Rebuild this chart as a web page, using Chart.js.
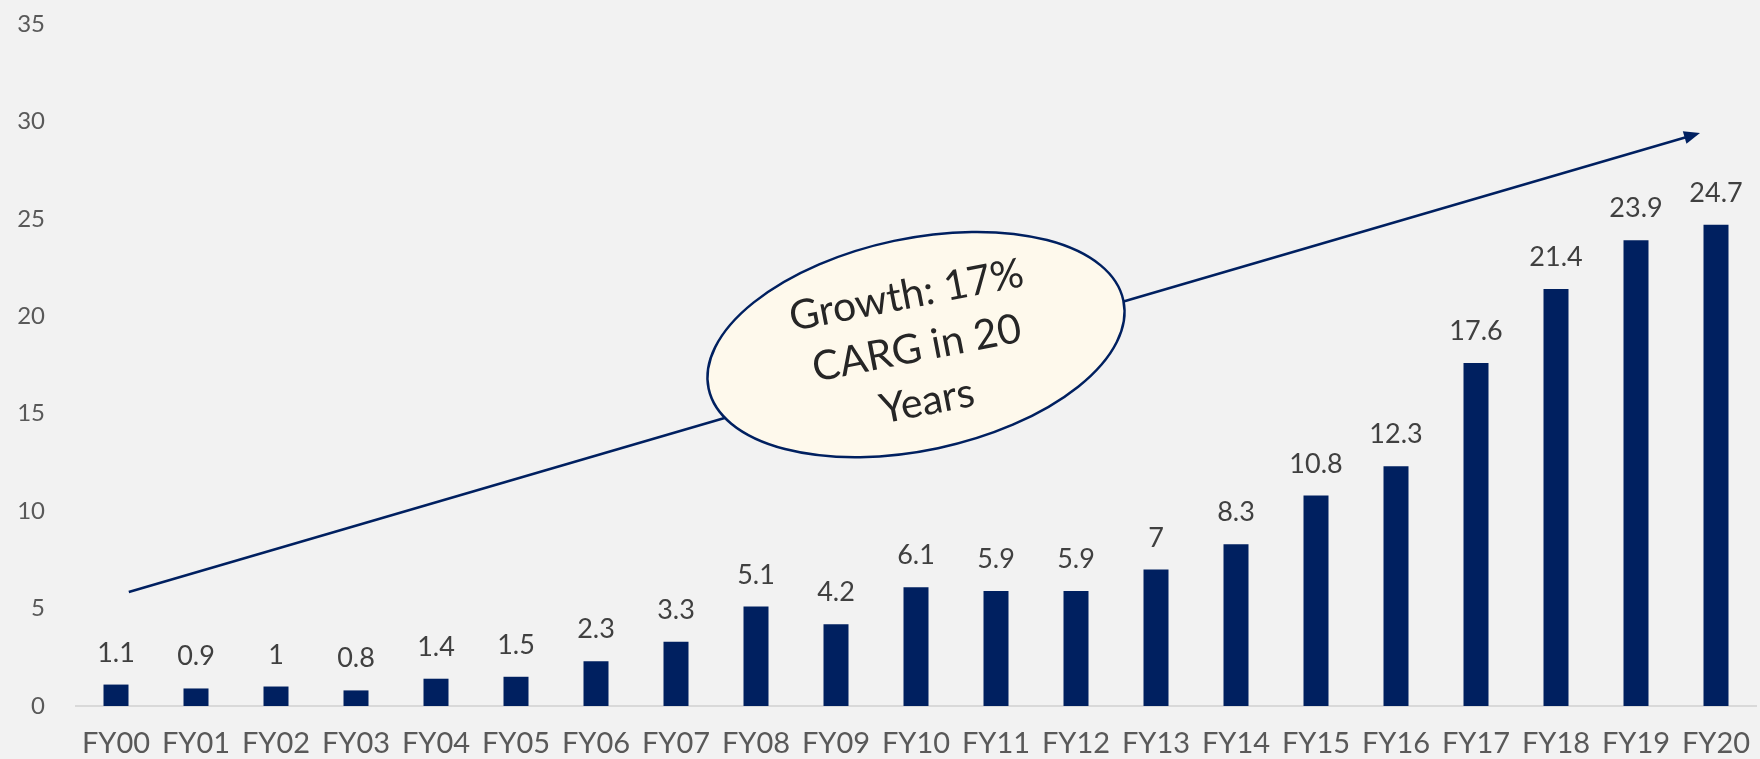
<!DOCTYPE html>
<html>
<head>
<meta charset="utf-8">
<script src="https://cdn.jsdelivr.net/npm/chart.js@4.4.1/dist/chart.umd.min.js"></script>
<style>
  html, body { margin: 0; padding: 0; background: #f2f2f2; }
  .chart-wrapper { width: 1760px; height: 759px; position: relative; }
</style>
</head>
<body>
<div class="chart-wrapper"><canvas id="myChart"></canvas></div>
<script>
const categories = ["FY00", "FY01", "FY02", "FY03", "FY04", "FY05", "FY06", "FY07", "FY08", "FY09", "FY10",
  "FY11", "FY12", "FY13", "FY14", "FY15", "FY16", "FY17", "FY18", "FY19", "FY20"];
const values = [1.1, 0.9, 1, 0.8, 1.4, 1.5, 2.3, 3.3, 5.1, 4.2, 6.1, 5.9, 5.9, 7, 8.3, 10.8, 12.3, 17.6, 21.4, 23.9, 24.7];
const yTicks = [0, 5, 10, 15, 20, 25, 30, 35];

// annotation: arrow from / to (category index, value) and the bubble centre
const arrowFrom = [0.16, 5.85];
const arrowTo = [19.8, 29.4];
const bubbleAt = [10.0, 18.55];
const bubbleText = ["Growth: 17%", "CARG in 20", "Years"];

const navy = "#002060";
const font = "Lato, 'Open Sans', sans-serif";

// value labels above each bar
const barLabels = {
  id: "barLabels",
  afterDatasetsDraw(chart) {
    const ctx = chart.ctx;
    const meta = chart.getDatasetMeta(0);
    ctx.save();
    ctx.fillStyle = "#404040";
    ctx.font = "27px " + font;
    ctx.textAlign = "center";
    ctx.textBaseline = "alphabetic";
    meta.data.forEach((bar, i) => {
      ctx.fillText(String(values[i]), bar.x, bar.y - 23);
    });
    ctx.restore();
  }
};

// growth arrow and the ellipse callout
const growthNote = {
  id: "growthNote",
  afterDatasetsDraw(chart) {
    const ctx = chart.ctx;
    const x = chart.scales.x, y = chart.scales.y;
    const x1 = x.getPixelForValue(arrowFrom[0]), y1 = y.getPixelForValue(arrowFrom[1]);
    const x2 = x.getPixelForValue(arrowTo[0]), y2 = y.getPixelForValue(arrowTo[1]);
    const ang = Math.atan2(y2 - y1, x2 - x1);

    ctx.save();
    ctx.strokeStyle = navy;
    ctx.fillStyle = navy;
    ctx.lineWidth = 2.5;
    ctx.beginPath();
    ctx.moveTo(x1, y1);
    ctx.lineTo(x2 - 12 * Math.cos(ang), y2 - 12 * Math.sin(ang));
    ctx.stroke();
    // head
    ctx.beginPath();
    ctx.moveTo(x2, y2);
    ctx.lineTo(x2 - 16 * Math.cos(ang) + 6.5 * Math.sin(ang), y2 - 16 * Math.sin(ang) - 6.5 * Math.cos(ang));
    ctx.lineTo(x2 - 16 * Math.cos(ang) - 6.5 * Math.sin(ang), y2 - 16 * Math.sin(ang) + 6.5 * Math.cos(ang));
    ctx.closePath();
    ctx.fill();

    const cx = x.getPixelForValue(bubbleAt[0]), cy = y.getPixelForValue(bubbleAt[1]);
    const tilt = -12 * Math.PI / 180;
    ctx.beginPath();
    ctx.ellipse(cx, cy, 212, 106, tilt, 0, Math.PI * 2);
    ctx.fillStyle = "#fef9ec";
    ctx.fill();
    ctx.lineWidth = 2.5;
    ctx.strokeStyle = navy;
    ctx.stroke();

    ctx.translate(cx, cy);
    ctx.rotate(-11 * Math.PI / 180);
    ctx.fillStyle = "#262626";
    ctx.font = "41px " + font;
    ctx.textAlign = "center";
    ctx.textBaseline = "middle";
    bubbleText.forEach((line, i) => {
      ctx.fillText(line, 0, (i - 1) * 54 + 4);
    });
    ctx.restore();
  }
};

new Chart(document.getElementById("myChart"), {
  type: "bar",
  data: {
    labels: categories,
    datasets: [{
      data: values,
      backgroundColor: navy,
      borderWidth: 0,
      barPercentage: 0.3125,
      categoryPercentage: 1
    }]
  },
  options: {
    responsive: true,
    maintainAspectRatio: false,
    animation: false,
    layout: { padding: { top: 24, right: 4, left: 0, bottom: 0 } },
    plugins: {
      legend: { display: false },
      tooltip: { enabled: false }
    },
    scales: {
      x: {
        grid: { display: false, drawTicks: false },
        border: { display: true, color: "#d9d9d9", width: 2 },
        ticks: { color: "#595959", font: { family: font, size: 29 }, padding: 20, maxRotation: 0, autoSkip: false },
        afterFit(scale) {
          scale.height = 53;
          scale.paddingLeft = 0;
          scale.paddingRight = 0;
        }
      },
      y: {
        min: 0,
        max: 35,
        grid: { display: false, drawTicks: false },
        border: { display: false },
        afterBuildTicks(scale) { scale.ticks = yTicks.map(v => ({ value: v })); },
        ticks: { color: "#595959", font: { family: font, size: 24 }, padding: 31 },
        afterFit(scale) {
          scale.width = 76;
          // tick padding would otherwise push the plot top down
          scale.paddingTop = 12;
          scale.paddingBottom = 12;
        }
      }
    }
  },
  plugins: [barLabels, growthNote]
});
</script>
</body>
</html>
